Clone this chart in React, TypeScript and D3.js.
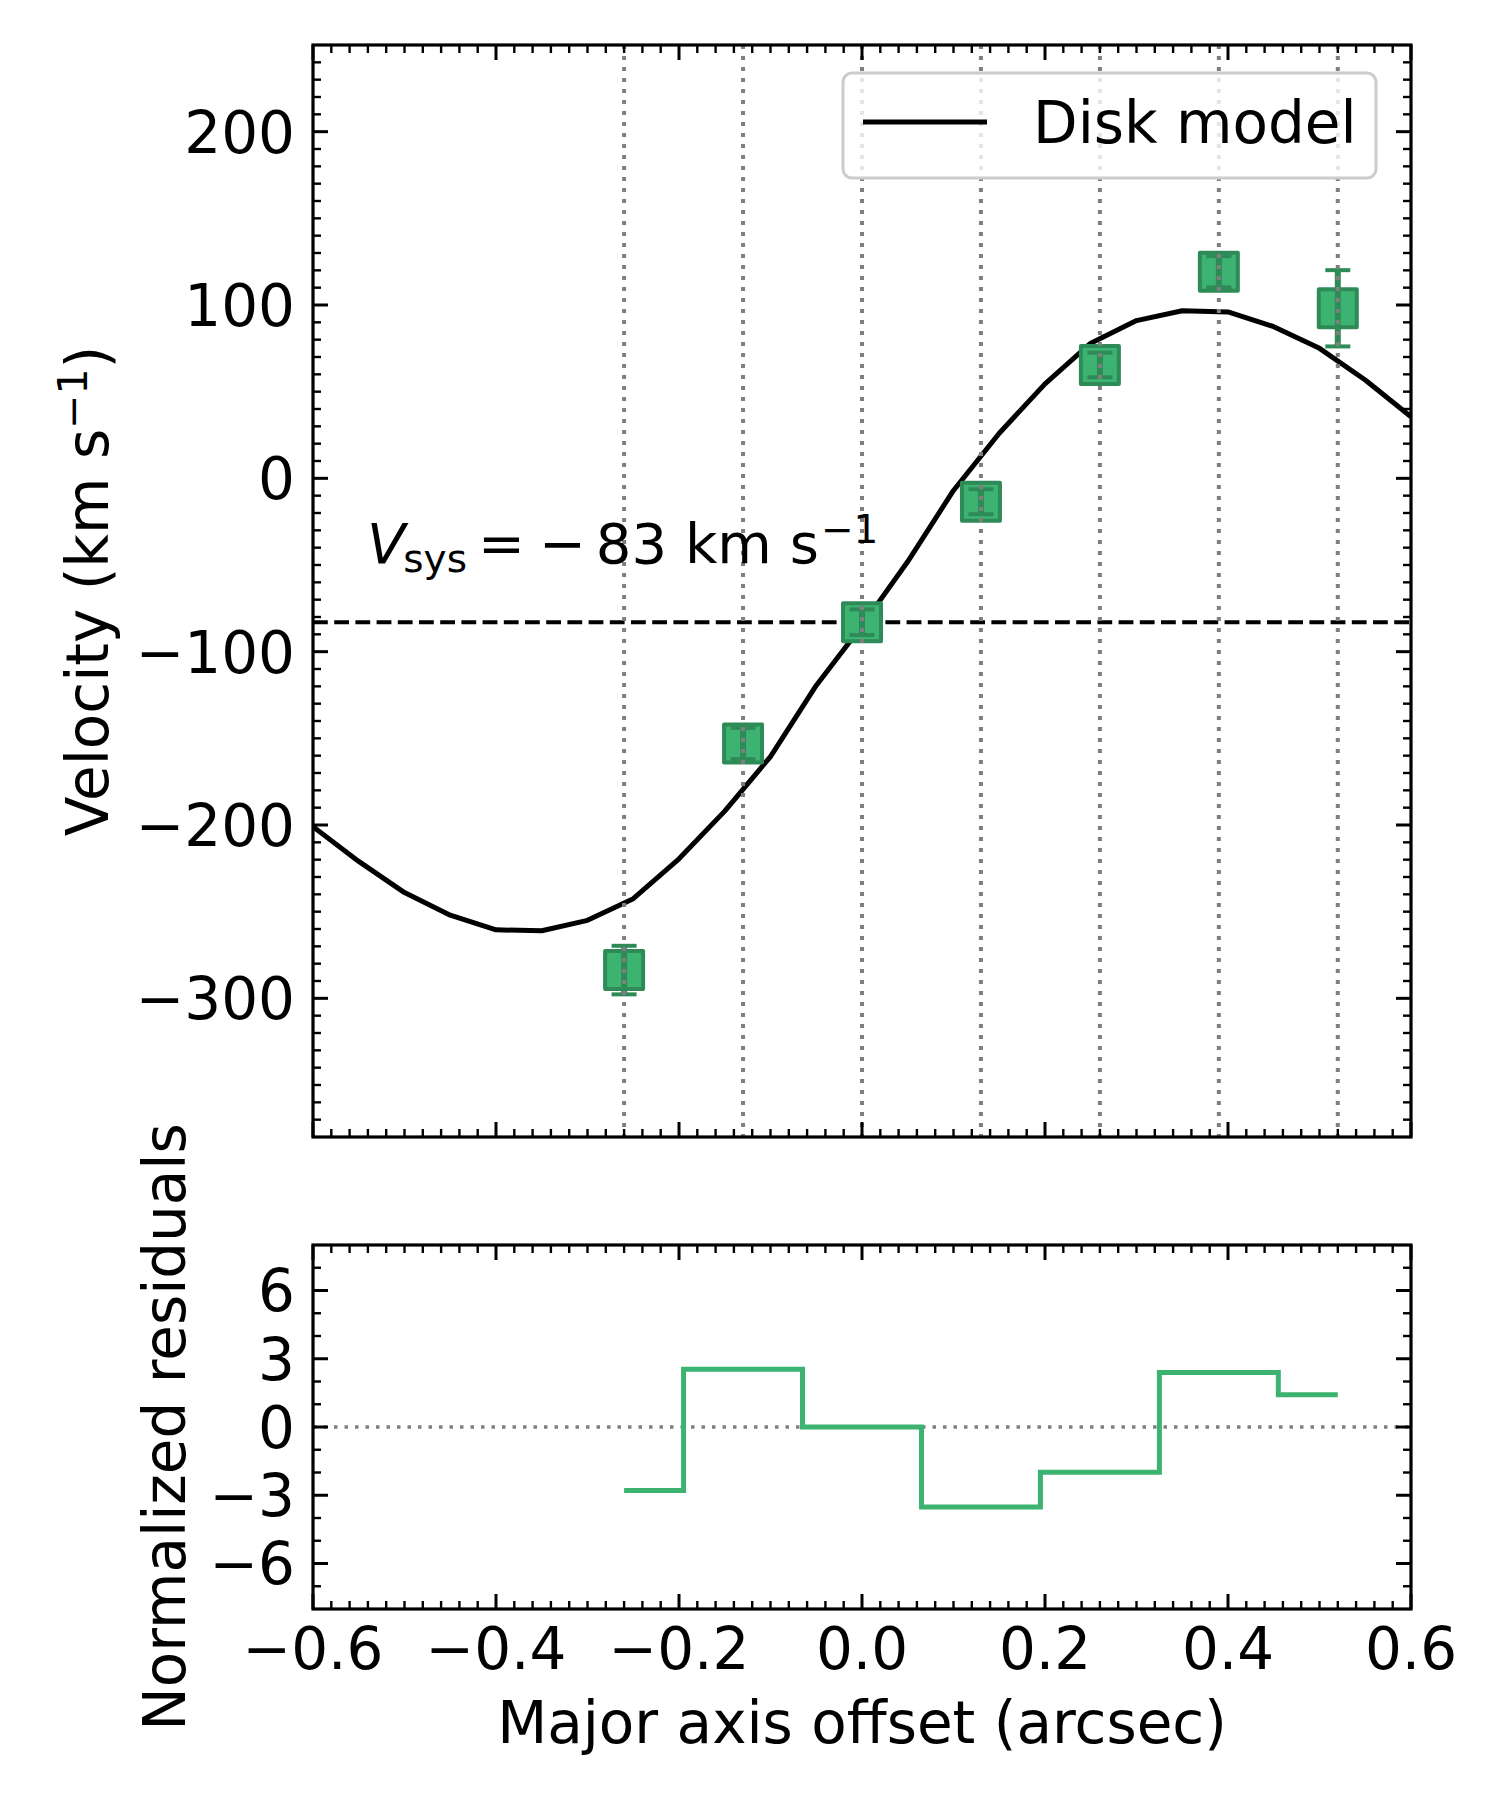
import { format, line, curveLinear, curveStep, range, scaleLinear } from 'd3'

// disk model curve, sampled every 0.05 arcsec
const modelOffsets = [
  -0.6, -0.55, -0.5, -0.45, -0.4, -0.35, -0.3, -0.25, -0.2, -0.15, -0.1, -0.05, 0,
  0.05, 0.1, 0.15, 0.2, 0.25, 0.3, 0.35, 0.4, 0.45, 0.5, 0.55, 0.6,
]
const modelVelocity = [
  -201, -221, -239, -252, -260.5, -261, -255, -242.5, -219.5, -192, -160.5, -119.5, -85,
  -48, -7, 26, 54.5, 78, 91, 96.7, 96, 87.5, 75, 56.7, 35.5,
]

// measured points
const pointOffsets = [-0.26, -0.13, 0, 0.13, 0.26, 0.39, 0.52]
const pointVelocity = [-283.7, -153, -83, -13.5, 65.4, 119.2, 98.1]
const pointError = [14, 9, 7.4, 7.2, 7.1, 9, 22]
const residuals = [-2.79, 2.54, 0.0, -3.52, -1.99, 2.4, 1.42]

const vsys = -83

const xTicks = [-0.6, -0.4, -0.2, 0, 0.2, 0.4, 0.6]
const velTicks = [-300, -200, -100, 0, 100, 200]
const resTicks = [-6, -3, 0, 3, 6]

const W = 1500
const H = 1800
const left = 313
const right = 1411
const topBox = { top: 45, bottom: 1137 }
const botBox = { top: 1245, bottom: 1609 }

const font = '"DejaVu Sans", sans-serif'
const fs = 58
const green = '#3cb371'
const darkGreen = '#2e8b57'

const x = scaleLinear().domain([-0.6, 0.6]).range([left, right])
const yVel = scaleLinear().domain([-380, 250]).range([topBox.bottom, topBox.top])
const yRes = scaleLinear().domain([-8, 8]).range([botBox.bottom, botBox.top])

const xMinor = range(-0.58, 0.6, 0.02).filter((v) => Math.abs(Math.round(v * 50) % 10) !== 0)
const velMinor = range(-370, 250, 10).filter((v) => v % 100 !== 0)
const resMinor = range(-7, 8, 1).filter((v) => v % 3 !== 0)

const fmtX = format('.1f')
const fmtY = format('d')

interface FrameProps {
  top: number
  bottom: number
  yScale: (v: number) => number
  yMajor: number[]
  yMinor: number[]
}

const Frame = ({ top, bottom, yScale, yMajor, yMinor }: FrameProps) => {
  const major = 15
  const minor = 8
  return (
    <g stroke="black">
      {xTicks.map((t) => (
        <g key={`xM${t}`} strokeWidth={3}>
          <line x1={x(t)} x2={x(t)} y1={bottom} y2={bottom - major} />
          <line x1={x(t)} x2={x(t)} y1={top} y2={top + major} />
        </g>
      ))}
      {xMinor.map((t) => (
        <g key={`xm${t}`} strokeWidth={2.4}>
          <line x1={x(t)} x2={x(t)} y1={bottom} y2={bottom - minor} />
          <line x1={x(t)} x2={x(t)} y1={top} y2={top + minor} />
        </g>
      ))}
      {yMajor.map((t) => (
        <g key={`yM${t}`} strokeWidth={3}>
          <line x1={left} x2={left + major} y1={yScale(t)} y2={yScale(t)} />
          <line x1={right} x2={right - major} y1={yScale(t)} y2={yScale(t)} />
        </g>
      ))}
      {yMinor.map((t) => (
        <g key={`ym${t}`} strokeWidth={2.4}>
          <line x1={left} x2={left + minor} y1={yScale(t)} y2={yScale(t)} />
          <line x1={right} x2={right - minor} y1={yScale(t)} y2={yScale(t)} />
        </g>
      ))}
      <rect x={left} y={top} width={right - left} height={bottom - top} fill="none" strokeWidth={3.2} />
      <g stroke="none" fill="black" fontSize={fs} textAnchor="end">
        {yMajor.map((t) => (
          <text key={`yl${t}`} x={left - 18} y={yScale(t)} dy="0.36em">
            {fmtY(t)}
          </text>
        ))}
      </g>
    </g>
  )
}

const App = () => {
  const modelPts = modelOffsets.map((o, i) => [o, modelVelocity[i]] as [number, number])
  const modelPath =
    line<[number, number]>()
      .x((d) => x(d[0]))
      .y((d) => yVel(d[1]))
      .curve(curveLinear)(modelPts) ?? ''

  const resPts = pointOffsets.map((o, i) => [o, residuals[i]] as [number, number])
  const resPath =
    line<[number, number]>()
      .x((d) => x(d[0]))
      .y((d) => yRes(d[1]))
      .curve(curveStep)(resPts) ?? ''

  const marker = 38
  const capHalf = 12.5

  return (
    <div style={{ position: 'absolute', left: 0, top: 0 }}>
      <svg width={W} height={H} viewBox={`0 0 ${W} ${H}`} fontFamily={font} style={{ display: 'block', background: 'white' }}>
        <rect x={0} y={0} width={W} height={H} fill="white" />

        {/* top panel */}
        <defs>
          <clipPath id="clipTop">
            <rect x={left} y={topBox.top} width={right - left} height={topBox.bottom - topBox.top} />
          </clipPath>
        </defs>
        <g clipPath="url(#clipTop)">
          <line
            x1={left}
            x2={right}
            y1={yVel(vsys)}
            y2={yVel(vsys)}
            stroke="black"
            strokeWidth={4}
            strokeDasharray="14.8 6.4"
          />
          <path d={modelPath} fill="none" stroke="black" strokeWidth={5} strokeLinejoin="round" />
          {pointOffsets.map((o, i) => {
            const cx = x(o)
            const cy = yVel(pointVelocity[i])
            const y1 = yVel(pointVelocity[i] + pointError[i])
            const y2 = yVel(pointVelocity[i] - pointError[i])
            return (
              <g key={`p${o}`}>
                <rect
                  x={cx - marker / 2}
                  y={cy - marker / 2}
                  width={marker}
                  height={marker}
                  fill={green}
                  stroke={darkGreen}
                  strokeWidth={4}
                  strokeLinejoin="round"
                />
                <g stroke={darkGreen}>
                  <line x1={cx} x2={cx} y1={y1} y2={y2} strokeWidth={6} />
                  <line x1={cx - capHalf} x2={cx + capHalf} y1={y1} y2={y1} strokeWidth={4} />
                  <line x1={cx - capHalf} x2={cx + capHalf} y1={y2} y2={y2} strokeWidth={4} />
                </g>
              </g>
            )
          })}
          {pointOffsets.map((o) => (
            <line
              key={`v${o}`}
              x1={x(o)}
              x2={x(o)}
              y1={topBox.top}
              y2={topBox.bottom}
              stroke="#7f7f7f"
              strokeWidth={4}
              strokeDasharray="4 7"
            />
          ))}
        </g>

        <text x={x(-0.541)} y={yVel(-49)} fontSize={56}>
          <tspan fontStyle="italic">V</tspan>
          <tspan fontSize={39} dy={9} dx={-2}>sys</tspan>
          <tspan dy={-9} dx={11}>=</tspan>
          <tspan dx={14}>−</tspan>
          <tspan dx={10}>83 km s</tspan>
          <tspan fontSize={39} dy={-20} dx={2}>−1</tspan>
        </text>

        {/* legend */}
        <g>
          <rect
            x={843}
            y={73}
            width={533}
            height={105}
            rx={9}
            fill="white"
            fillOpacity={0.8}
            stroke="#cccccc"
            strokeWidth={3}
          />
          <line x1={863} x2={987} y1={122} y2={122} stroke="black" strokeWidth={5} />
          <text x={1033} y={143} fontSize={fs}>
            Disk model
          </text>
        </g>

        <Frame top={topBox.top} bottom={topBox.bottom} yScale={yVel} yMajor={velTicks} yMinor={velMinor} />

        <text transform={`translate(108, ${(topBox.top + topBox.bottom) / 2}) rotate(-90)`} textAnchor="middle" fontSize={fs}>
          Velocity (km s<tspan fontSize={41} dy={-21}>−1</tspan>
          <tspan dy={21}>)</tspan>
        </text>

        {/* residual panel */}
        <line
          x1={left}
          x2={right}
          y1={yRes(0)}
          y2={yRes(0)}
          stroke="#7f7f7f"
          strokeWidth={3.5}
          strokeDasharray="3.5 7"
        />
        <path d={resPath} fill="none" stroke={green} strokeWidth={5} />

        <Frame top={botBox.top} bottom={botBox.bottom} yScale={yRes} yMajor={resTicks} yMinor={resMinor} />

        <g fontSize={fs} textAnchor="middle">
          {xTicks.map((t) => (
            <text key={`xl${t}`} x={x(t)} y={botBox.bottom + 60}>
              {fmtX(t)}
            </text>
          ))}
        </g>

        <text transform={`translate(185, ${(botBox.top + botBox.bottom) / 2}) rotate(-90)`} textAnchor="middle" fontSize={fs}>
          Normalized residuals
        </text>

        <text x={(left + right) / 2} y={1743} textAnchor="middle" fontSize={fs}>
          Major axis offset (arcsec)
        </text>
      </svg>
    </div>
  )
}

export default App
